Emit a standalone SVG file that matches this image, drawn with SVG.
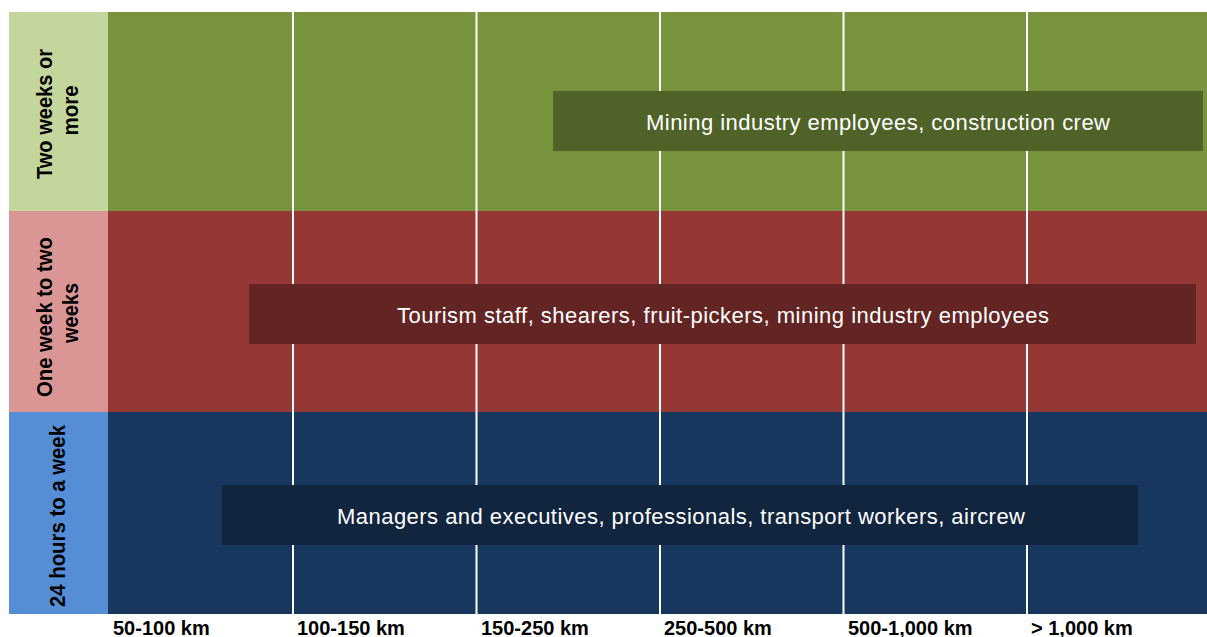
<svg xmlns="http://www.w3.org/2000/svg" width="1207" height="637" viewBox="0 0 1207 637">
  <style>
    .row-label { font-family: "Liberation Sans", Arial, sans-serif; font-weight: bold; font-size: 22px; fill: #000; text-anchor: middle; }
    .axis { font-family: "Liberation Sans", Arial, sans-serif; font-weight: bold; font-size: 20px; fill: #000; }
    .box-text { font-family: "Liberation Sans", Arial, sans-serif; font-size: 22px; fill: #fff; text-anchor: middle; }
    .grid line { stroke: #fff; stroke-width: 2; }
  </style>

  <rect width="1207" height="637" fill="#fff"/>

  <!-- Duration bands -->
  <g id="band-two-weeks-or-more">
    <rect x="9" y="12" width="99" height="199" fill="#C3D69B"/>
    <rect x="108" y="12" width="1099" height="199" fill="#77933C"/>
    <text class="row-label" transform="translate(52,114) rotate(-90)" textLength="130" lengthAdjust="spacingAndGlyphs">Two weeks or</text>
    <text class="row-label" transform="translate(78,110.5) rotate(-90)" textLength="50" lengthAdjust="spacingAndGlyphs">more</text>
  </g>

  <g id="band-one-to-two-weeks">
    <rect x="9" y="211" width="99" height="201" fill="#D99694"/>
    <rect x="108" y="211" width="1099" height="201" fill="#953735"/>
    <text class="row-label" transform="translate(52,317) rotate(-90)" textLength="160" lengthAdjust="spacingAndGlyphs">One week to two</text>
    <text class="row-label" transform="translate(78,313) rotate(-90)" textLength="60" lengthAdjust="spacingAndGlyphs">weeks</text>
  </g>

  <g id="band-24-hours-to-a-week">
    <rect x="9" y="412" width="99" height="202" fill="#558ED5"/>
    <rect x="108" y="412" width="1099" height="202" fill="#17375E"/>
    <text class="row-label" transform="translate(65,516) rotate(-90)" textLength="182" lengthAdjust="spacingAndGlyphs">24 hours to a week</text>
  </g>

  <!-- Distance column dividers -->
  <g id="grid" class="grid">
    <line x1="293" y1="12" x2="293" y2="615"/>
    <line x1="476.5" y1="12" x2="476.5" y2="615"/>
    <line x1="660" y1="12" x2="660" y2="615"/>
    <line x1="843.5" y1="12" x2="843.5" y2="615"/>
    <line x1="1027" y1="12" x2="1027" y2="615"/>
  </g>

  <!-- Occupation ranges -->
  <g id="range-long">
    <rect x="553" y="91" width="650" height="60" fill="#4F6228"/>
    <text class="box-text" x="878" y="129.5" textLength="464" lengthAdjust="spacing">Mining industry employees, construction crew</text>
  </g>

  <g id="range-medium">
    <rect x="249" y="284" width="947" height="60" fill="#632523"/>
    <text class="box-text" x="723" y="322.5" textLength="652" lengthAdjust="spacing">Tourism staff, shearers, fruit-pickers, mining industry employees</text>
  </g>

  <g id="range-short">
    <rect x="222" y="485" width="916" height="60" fill="#11253F"/>
    <text class="box-text" x="681" y="523.5" textLength="688" lengthAdjust="spacing">Managers and executives, professionals, transport workers, aircrew</text>
  </g>

  <!-- Distance axis -->
  <g id="axis-labels">
    <text class="axis" x="113" y="635">50-100 km</text>
    <text class="axis" x="297" y="635">100-150 km</text>
    <text class="axis" x="481" y="635">150-250 km</text>
    <text class="axis" x="664" y="635">250-500 km</text>
    <text class="axis" x="848" y="635">500-1,000 km</text>
    <text class="axis" x="1031" y="635">&gt; 1,000 km</text>
  </g>
</svg>
